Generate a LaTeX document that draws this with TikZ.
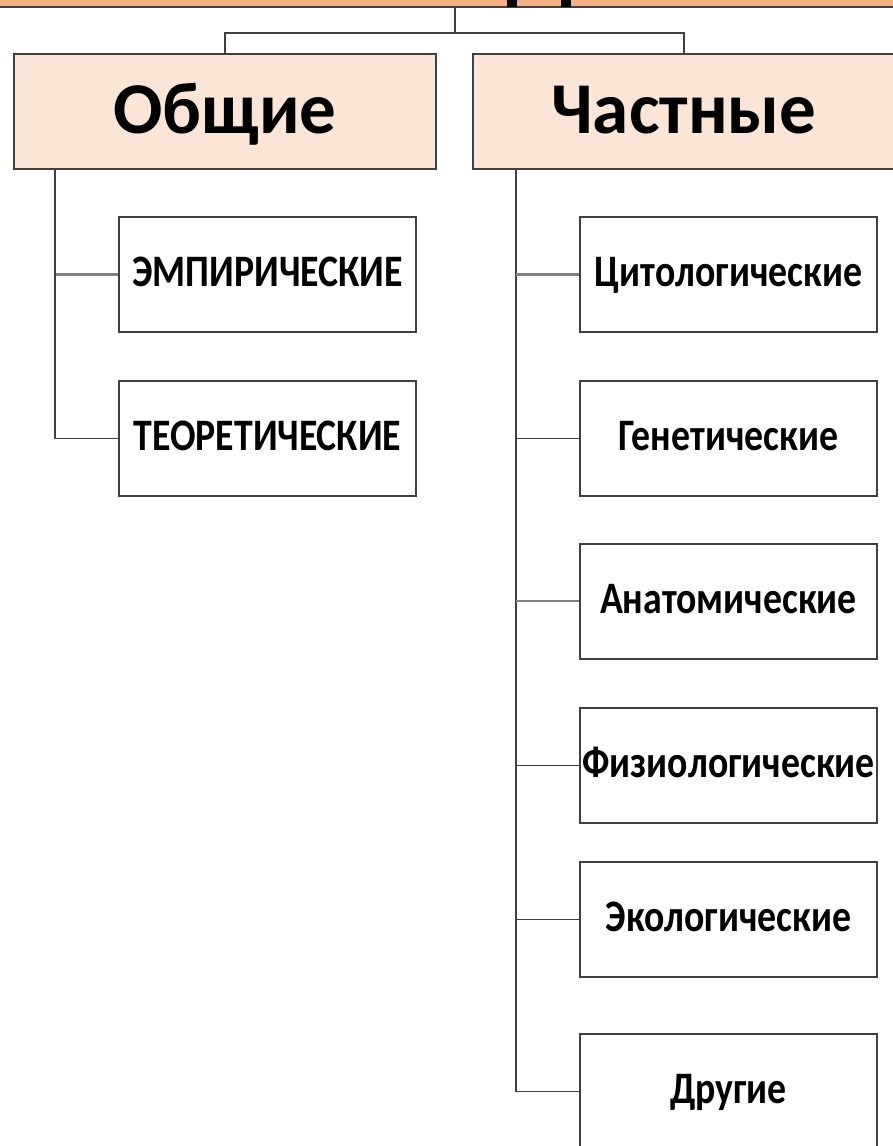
\documentclass[tikz,border=0pt]{standalone}
\usepackage{fontspec}
\setmainfont{Carlito}
\newfontfamily\narrowfont[FakeStretch=0.84]{Carlito}
\usepackage{xcolor}
\usepackage{tikz}
\definecolor{BarOrange}{RGB}{244,177,131}
\definecolor{HeadPeach}{RGB}{251,229,214}
\definecolor{LineDark}{RGB}{64,64,64}
\definecolor{LineLight}{RGB}{128,128,128}

\begin{document}
\begin{tikzpicture}[x=1pt,y=-1pt,
    headbox/.style={fill=HeadPeach,draw=LineDark,line width=2pt,
      minimum width=422pt,minimum height=115pt,inner sep=0pt,
      text height=50pt,text depth=7pt,
      font=\fontsize{73}{73}\selectfont\bfseries},
    leafbox/.style={fill=white,draw=LineDark,line width=2pt,
      minimum width=297pt,minimum height=115pt,inner sep=0pt,
      text height=30pt,text depth=6pt,
      font=\narrowfont\fontsize{45}{45}\selectfont\bfseries},
    link/.style={draw=LineDark,line width=1.5pt},
    linklight/.style={draw=LineLight,line width=2.5pt}]
    \useasboundingbox (0,0) rectangle (892,1146);
    \fill[white] (0,0) rectangle (892,1146);
    % cut-off title bar
    \node[fill=BarOrange,draw=LineDark,line width=1.5pt,minimum width=930pt,
          minimum height=26pt,inner sep=0pt] (title) at (455,-6) {};
    \fill (507,0) rectangle (517,7);
    \fill (561,0) rectangle (571,7);
    % two groups
    \node[headbox] (obsh) at (225,111.5) {Общие};
    \node[headbox] (chast) at (684,111.5) {Частные};
    \draw[link] (title.south) -- ++(0,25) coordinate (fork);
    \draw[link] (obsh.north) |- (fork) -| (chast.north);
    % general methods
    \node[leafbox] (emp) at (267.5,274.5) {ЭМПИРИЧЕСКИЕ};
    \node[leafbox] (teor) at (267.5,438.5) {ТЕОРЕТИЧЕСКИЕ};
    \coordinate (lspine) at ([xshift=42pt]obsh.south west);
    \draw[linklight] (lspine |- emp.west) -- (emp.west);
    \draw[link] (lspine) |- (teor.west);
    % particular methods
    \node[leafbox] (cyto) at (728.5,274.5) {Цитологические};
    \node[leafbox] (gen) at (728.5,438.5) {Генетические};
    \node[leafbox] (anat) at (728.5,601) {Анатомические};
    \node[leafbox] (phys) at (728.5,765.5) {Физиологические};
    \node[leafbox] (eco) at (728.5,919.5) {Экологические};
    \node[leafbox] (other) at (728.5,1091.5) {Другие};
    \coordinate (rspine) at ([xshift=44pt]chast.south west);
    \draw[link] (rspine) |- (other.west);
    \foreach \m in {cyto,anat}
      \draw[linklight] (rspine |- \m.west) -- (\m.west);
    \foreach \m in {gen,phys,eco}
      \draw[link] (rspine |- \m.west) -- (\m.west);
  \end{tikzpicture}
\end{document}
